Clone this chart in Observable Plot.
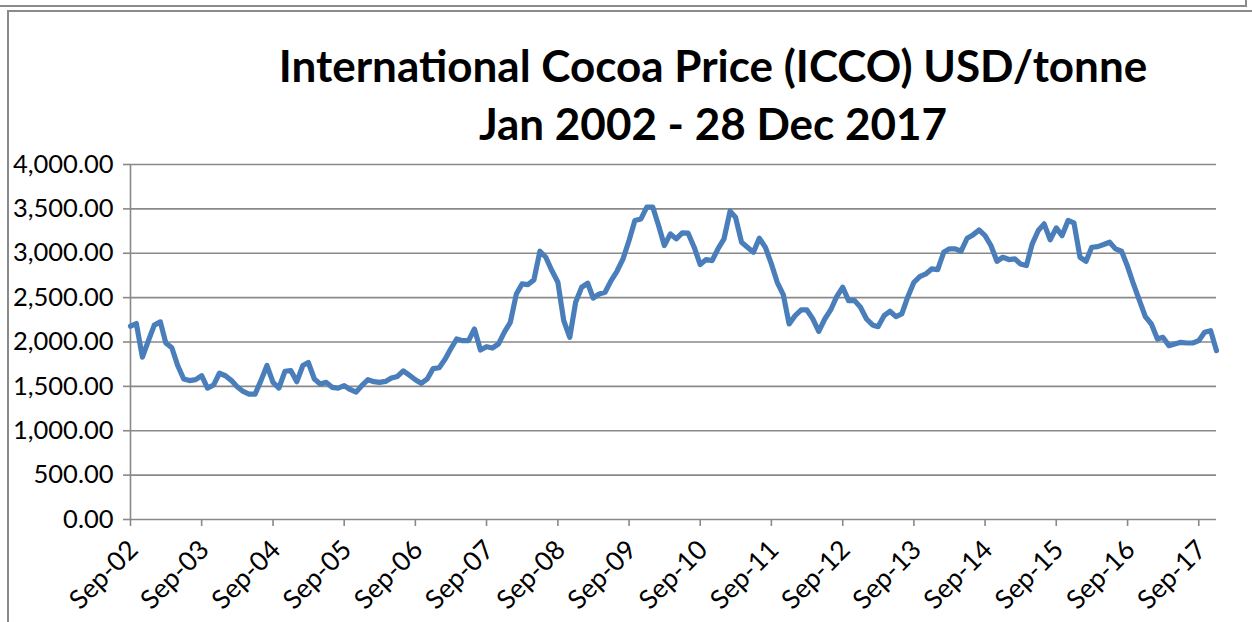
<!DOCTYPE html>
<html>
<head>
<meta charset="utf-8">
<script src="https://cdn.jsdelivr.net/npm/d3@7"></script>
<script src="https://cdn.jsdelivr.net/npm/@observablehq/plot@0.6"></script>
<style>
html,body{margin:0;padding:0;background:#fff;}
#wrap{position:relative;width:1252px;height:622px;overflow:hidden;font-family:Lato,"Open Sans",sans-serif;background:#fff;}
.title{position:absolute;left:0;width:1426px;text-align:center;font-weight:700;font-size:44px;line-height:44px;color:#000;white-space:nowrap;}
#chart{position:absolute;left:0;top:150px;}
.frame{position:absolute;border-color:#8a8a8a;border-style:solid;}
</style>
</head>
<body>
<div id="wrap">
  <div class="frame" style="left:-2px;top:-2px;width:1247px;height:7px;border-width:0 2px 2px 0;"></div>
  <div class="frame" style="left:7px;top:10px;width:1260px;height:700px;border-width:2px 0 0 2px;"></div>
  <div class="title" id="t1" style="top:43px;">International Cocoa Price (ICCO) USD/tonne</div>
  <div class="title" id="t2" style="top:101px;">Jan 2002 - 28 Dec 2017</div>
  <div id="chart"></div>
</div>
<script>
// Monthly ICCO prices (USD/tonne), first value = September 2002
const startYear = 2002;
const startMonth = 8; // September (0-based)
const prices = [
  2178, 2208, 1830, 2010, 2190, 2227, 1990, 1935, 1735, 1583, 1565, 1576,
  1621, 1481, 1515, 1648, 1620, 1565, 1496, 1443, 1413, 1413, 1565, 1735,
  1545, 1481, 1670, 1678, 1553, 1735, 1769, 1583, 1527, 1545, 1489, 1481,
  1508, 1465, 1435, 1510, 1575, 1553, 1545, 1556, 1594, 1612, 1675, 1626,
  1575, 1535, 1584, 1700, 1710, 1808, 1921, 2034, 2015, 2015, 2147, 1910,
  1947, 1932, 1977, 2109, 2222, 2541, 2654, 2647, 2700, 3023, 2955, 2805,
  2673, 2241, 2053, 2447, 2617, 2662, 2496, 2541, 2560, 2692, 2797, 2936,
  3143, 3369, 3387, 3519, 3519, 3301, 3087, 3218, 3162, 3230, 3226, 3068,
  2872, 2929, 2917, 3049, 3162, 3474, 3406, 3124, 3068, 3011, 3169, 3068,
  2880, 2673, 2534, 2203, 2297, 2361, 2361, 2259, 2120, 2259, 2361, 2511,
  2617, 2466, 2466, 2391, 2259, 2192, 2173, 2297, 2346, 2286, 2316, 2511,
  2673, 2737, 2767, 2823, 2816, 3011, 3049, 3049, 3023, 3169, 3207, 3263,
  3199, 3087, 2910, 2955, 2929, 2936, 2880, 2861, 3105, 3256, 3331, 3150,
  3286, 3199, 3369, 3342, 2955, 2910, 3068, 3075, 3098, 3124, 3049, 3023,
  2850, 2654, 2466, 2286, 2203, 2034, 2053, 1959, 1977, 1996, 1989, 1989,
  2015, 2109, 2128, 1902
];
const tickYears = [2002,2003,2004,2005,2006,2007,2008,2009,2010,2011,2012,2013,2014,2015,2016,2017];
const yTicks = [0, 500, 1000, 1500, 2000, 2500, 3000, 3500, 4000];
const gridValues = [500, 1000, 1500, 2000, 2500, 3000, 3500, 4000];

const start = new Date(Date.UTC(startYear, startMonth, 1));
const data = prices.map((v, i) => ({date: d3.utcMonth.offset(start, i), price: v}));
const endDate = data[data.length - 1].date;
const xTicks = tickYears.map(y => new Date(Date.UTC(y, 8, 1)));

const grey = "#898989";
const chart = Plot.plot({
  width: 1252,
  height: 472,
  marginLeft: 130,
  marginRight: 36,
  marginTop: 14,
  marginBottom: 103,
  style: {fontFamily: "Lato, 'Open Sans', sans-serif", fontSize: "25px", color: "#000", background: "transparent", overflow: "visible"},
  x: {type: "utc", domain: [start, endDate]},
  y: {domain: [0, 4000]},
  marks: [
    Plot.ruleY(gridValues, {stroke: grey, strokeWidth: 1.6}),
    Plot.ruleY([0], {stroke: grey, strokeWidth: 1.6}),
    Plot.ruleX([start], {y1: 0, y2: 4000, stroke: grey, strokeWidth: 1.6}),
    Plot.axisY({ticks: yTicks, tickFormat: d3.format(",.2f"), tickSize: 7, tickPadding: 10, stroke: grey, strokeWidth: 1.6, fill: "#000", label: null, fontSize: 25.5}),
    // x tick marks only
    Plot.axisX({ticks: xTicks, tickFormat: () => "", tickSize: 7, stroke: grey, strokeWidth: 1.6, label: null}),
    // x tick labels, rotated
    Plot.axisX({ticks: xTicks, tickFormat: d3.utcFormat("%b-%y"), tickSize: 0, tickPadding: 11, tickRotate: -45, dx: 3, dy: 15, fill: "#000", label: null, fontSize: 26.5}),
    Plot.line(data, {x: "date", y: "price", stroke: "#4a7ebb", strokeWidth: 5.2, strokeLinejoin: "round", strokeLinecap: "round"})
  ]
});
document.getElementById("chart").appendChild(chart);
</script>
</body>
</html>
